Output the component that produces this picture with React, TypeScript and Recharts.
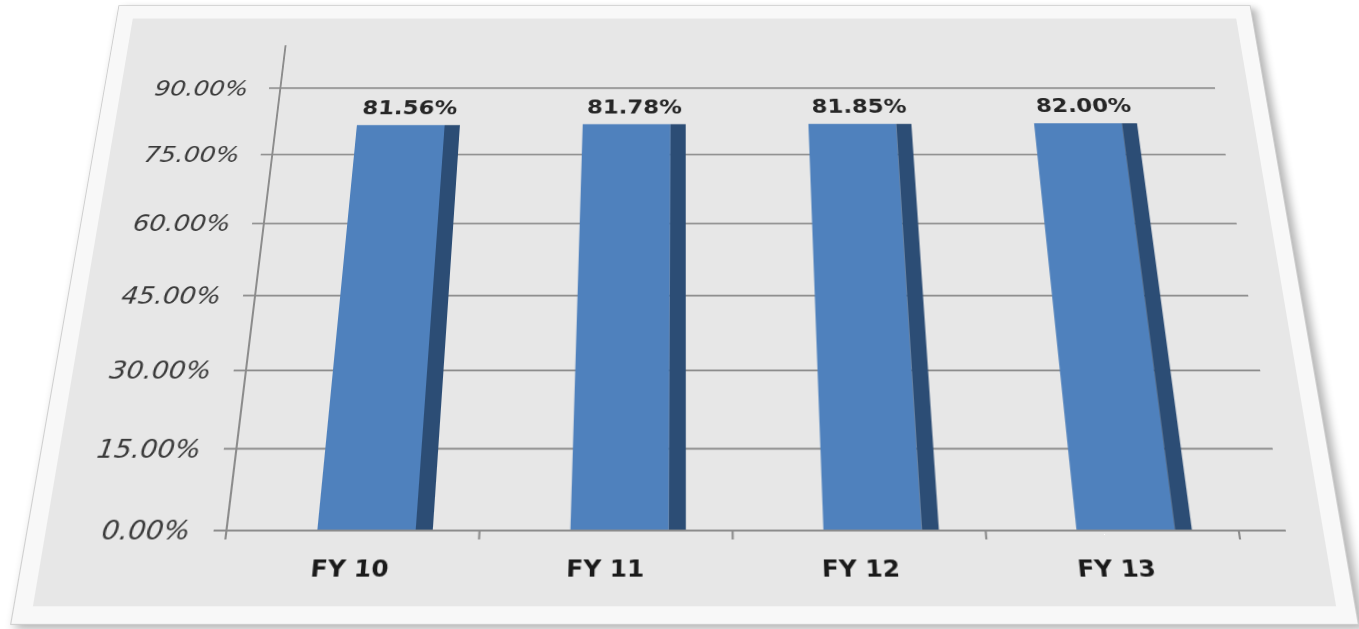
import React from 'react';
import { BarChart, Bar, XAxis, YAxis, CartesianGrid, LabelList, ReferenceLine } from 'recharts';

const categories = ['FY 10', 'FY 11', 'FY 12', 'FY 13'];
const values = [81.56, 81.78, 81.85, 82.0];
const yTicks = [0, 15, 30, 45, 60, 75, 90];

const data = categories.map((name, i) => ({ name, value: values[i] }));

// category boundaries: start of every band, plus the end of the last band
const boundaryMarks = [
  ...categories.map((c) => ({ cat: c, position: 'start' as const })),
  { cat: categories[categories.length - 1], position: 'end' as const },
];

const FRONT = '#4F81BD';
const SIDE = '#2C4D75';
const GRID = '#8C8C8C';
const SHIFT = 21;
const SIDE_W = 16;
const FONT = '"DejaVu Sans", Verdana, sans-serif';

const BarShape = (props: any) => {
  const { x, y, width, height } = props;
  const fx = x + SHIFT;
  const fw = width - SIDE_W;
  return (
    <g>
      <rect x={fx} y={y} width={fw} height={height} fill={FRONT} />
      <rect x={fx + fw} y={y} width={SIDE_W} height={height} fill={SIDE} />
    </g>
  );
};

const ValueLabel = (props: any) => {
  const { x, y, width, value } = props;
  return (
    <text
      x={x + width / 2 + SHIFT}
      y={y - 14}
      textAnchor="middle"
      fontFamily={FONT}
      fontWeight="bold"
      fontSize={24}
      fill="#262626"
    >
      {`${Number(value).toFixed(2)}%`}
    </text>
  );
};

export default function App() {
  return (
    <div
      style={{
        position: 'absolute',
        left: 0,
        top: 0,
        width: 1359,
        height: 629,
        overflow: 'hidden',
        background: '#ffffff',
      }}
    >
      <div
        style={{
          position: 'absolute',
          left: 68.5,
          top: -67.2,
          width: 1231,
          height: 710,
          boxSizing: 'border-box',
          background: '#F8F8F8',
          border: '1px solid #cfcfcf',
          boxShadow: '5px 4px 9px rgba(0,0,0,0.3)',
          transform: 'perspective(2030px) rotateX(30deg)',
        }}
      >
        <div
          style={{
            position: 'absolute',
            left: 17,
            top: 17,
            width: 1195,
            height: 674,
            background: '#E7E7E7',
          }}
        >
          <BarChart
            width={1195}
            height={674}
            data={data}
            margin={{ top: 36, right: 35, bottom: 15, left: 0 }}
          >
            <CartesianGrid
              horizontal
              vertical={false}
              horizontalValues={yTicks}
              stroke={GRID}
              strokeWidth={2}
            />
            <XAxis
              dataKey="name"
              padding={{ left: 0, right: 44 }}
              tickLine={false}
              axisLine={{ stroke: GRID, strokeWidth: 2 }}
              tickSize={8}
              tickMargin={22}
              height={60}
              interval={0}
              tick={{ fontFamily: FONT, fontWeight: 'bold', fontSize: 23, fill: '#1a1a1a' }}
            />
            <YAxis
              width={169}
              domain={[0, 100]}
              ticks={yTicks}
              interval={0}
              tickSize={12}
              tickMargin={22}
              tickLine={{ stroke: GRID, strokeWidth: 2 }}
              axisLine={{ stroke: GRID, strokeWidth: 2 }}
              tickFormatter={(v: number) => `${v.toFixed(2)}%`}
              tick={{ fontFamily: FONT, fontStyle: 'italic', fontSize: 26, fill: '#3a3a3a' }}
            />
            {boundaryMarks.map((m, i) => (
              <ReferenceLine
                key={i}
                segment={[{ x: m.cat, y: 0 }, { x: m.cat, y: -1.6 }]}
                position={m.position}
                stroke={GRID}
                strokeWidth={2}
                ifOverflow="visible"
              />
            ))}
            <Bar dataKey="value" barSize={108} shape={<BarShape />} isAnimationActive={false}>
              <LabelList dataKey="value" content={<ValueLabel />} />
            </Bar>
          </BarChart>
        </div>
      </div>
    </div>
  );
}
